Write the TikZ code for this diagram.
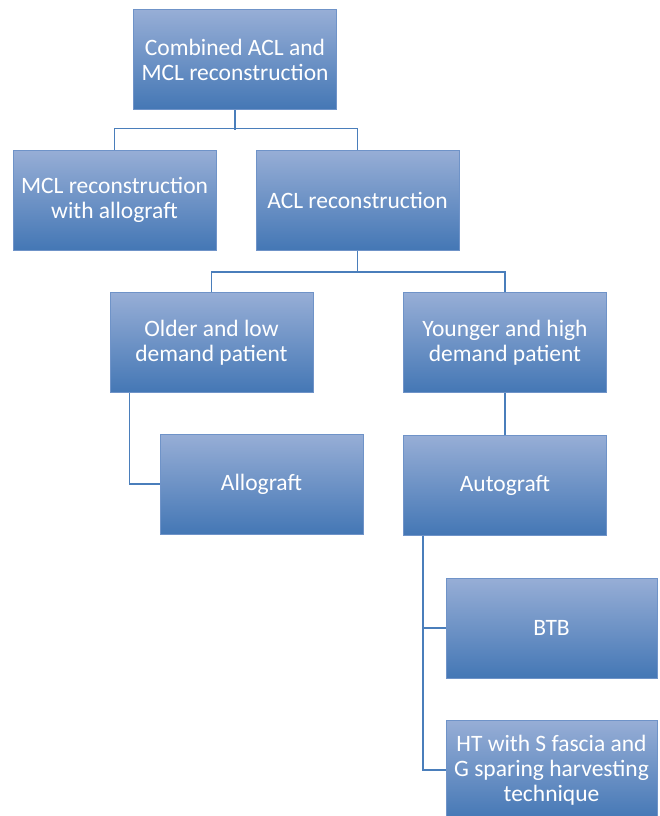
\documentclass[tikz,border=0pt]{standalone}
\usepackage{fontspec}
\setmainfont{Carlito}
\usepackage{tikz}

\definecolor{boxtop}{HTML}{97AED6}
\definecolor{boxbot}{HTML}{4477B5}
\definecolor{boxline}{HTML}{6F93C8}
\definecolor{linkcol}{HTML}{4A7EBB}

\begin{document}
\begin{tikzpicture}[x=1pt,y=-1pt,
    box/.style={draw=boxline,line width=1pt,top color=boxtop,bottom color=boxbot,
        text=white,align=center,minimum width=203,minimum height=100,
        inner sep=2pt,font=\fontsize{23.5}{25}\selectfont},
    widebox/.style={box,minimum width=211},
    link/.style={draw=linkcol,line width=1.2pt}]
                    \useasboundingbox (0,0) rectangle (660,816);
                    \begin{scope}
                    \clip (0,0) rectangle (660,816);

                    \node[box] (comb) at (235,59.5) {Combined ACL and\\MCL reconstruction};
                    \node[box] (mcl) at (114.5,200) {MCL reconstruction\\with allograft};
                    \node[box] (acl) at (357.5,200) {ACL reconstruction};

                    \node[box] (older) at (211.5,342.5) {Older and low\\demand patient};
                    \node[box] (younger) at (505,342.5) {Younger and high\\demand patient};

                    \node[box] (allo) at (261.5,484) {Allograft};
                    \node[box] (auto) at (505,485) {Autograft};

                    \node[widebox] (btb) at (551.5,628) {BTB};
                    \node[widebox] (ht) at (551.5,770) {HT with S fascia and\\G sparing harvesting\\technique};

                    \draw[link] (comb.south) -- ++(0,20);
                    \draw[link] (mcl.north) -- ++(0,-21) -| (acl.north);

                    \draw[link] (acl.south) -- ++(0,22);
                    \draw[link] (older.north) -- ++(0,-20) -| (younger.north);

                    \draw[link] ([xshift=20]older.south west) |- (allo.west);
                    \draw[link] (younger.south) -- (auto.north);

                    \draw[link] ([xshift=20]auto.south west) |- (btb.west);
                    \draw[link] ([xshift=20]auto.south west) |- (ht.west);
                    \end{scope}

                \end{tikzpicture}
\end{document}
